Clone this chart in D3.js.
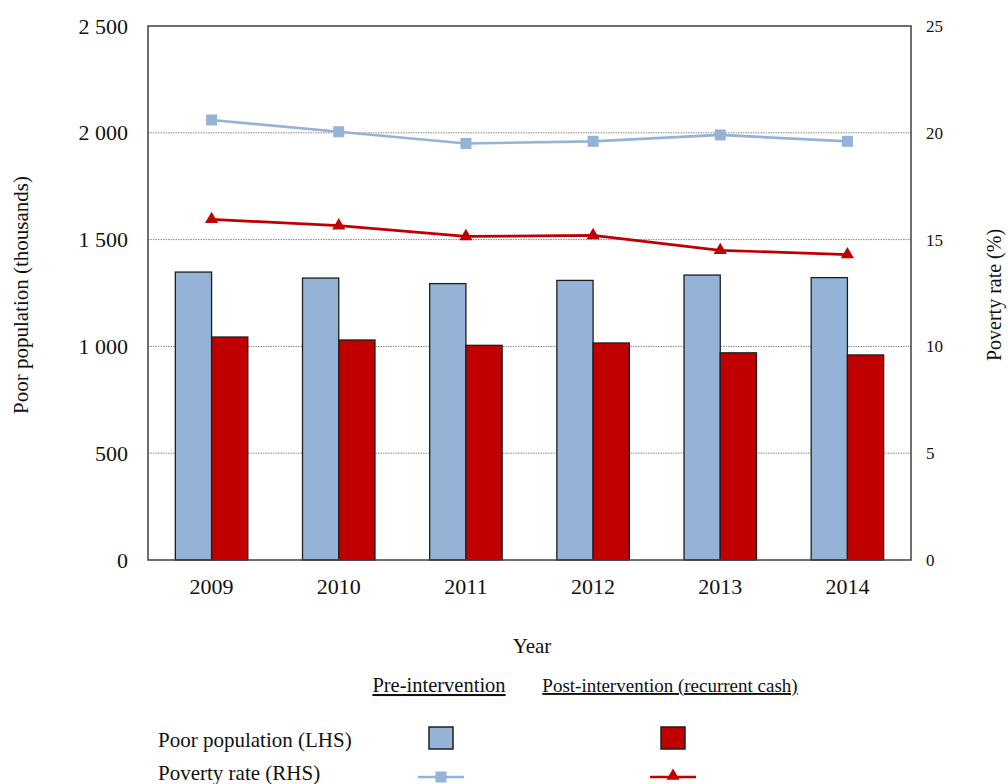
<!DOCTYPE html>
<html>
<head>
<meta charset="utf-8">
<script src="https://cdn.jsdelivr.net/npm/d3@7"></script>
<style>
  html, body { margin: 0; padding: 0; background: #fff; }
  svg { display: block; }
  svg text { font-family: "Liberation Serif", "Tinos", "DejaVu Serif", serif !important; }
</style>
</head>
<body>
<svg id="chart" width="1008" height="784"></svg>
<script>
const years = ["2009", "2010", "2011", "2012", "2013", "2014"];
const prePopulation = [1348, 1320, 1294, 1309, 1334, 1322];
const postPopulation = [1044, 1030, 1005, 1016, 970, 960];
const preRate = [20.6, 20.05, 19.5, 19.6, 19.9, 19.6];
const postRate = [15.95, 15.65, 15.15, 15.2, 14.5, 14.3];
const leftTicks = [0, 500, 1000, 1500, 2000, 2500];
const rightTicks = [0, 5, 10, 15, 20, 25];
const seriesNames = ["Pre-intervention", "Post-intervention (recurrent cash)"];
const rowNames = ["Poor population (LHS)", "Poverty rate (RHS)"];

const blue = "#95b3d7", red = "#c00000";
const svg = d3.select("#chart");
const L = 148, R = 911, T = 26, B = 560;

const x = d3.scaleBand().domain(years).range([L, R]).paddingInner(0.43).paddingOuter(0.215);
const xs = d3.scaleBand().domain([0, 1]).range([0, x.bandwidth()]);
const yL = d3.scaleLinear().domain([0, 2500]).range([B, T]);
const yR = d3.scaleLinear().domain([0, 25]).range([B, T]);

// gridlines
svg.append("g").selectAll("line").data(leftTicks.filter(d => d > 0 && d < 2500)).join("line")
  .attr("x1", L).attr("x2", R).attr("y1", d => yL(d)).attr("y2", d => yL(d))
  .attr("stroke", "#8a8a8a").attr("stroke-width", 1).attr("stroke-dasharray", "1.5,1");

// bars
const g = svg.append("g");
years.forEach((yr, i) => {
  [[prePopulation[i], blue], [postPopulation[i], red]].forEach(([v, c], k) => {
    g.append("rect")
      .attr("x", x(yr) + xs(k)).attr("width", xs.bandwidth())
      .attr("y", yL(v)).attr("height", yL(0) - yL(v))
      .attr("fill", c).attr("stroke", "#1e1e1e").attr("stroke-width", 1.3);
  });
});

// frame
svg.append("rect").attr("x", L).attr("y", T).attr("width", R - L).attr("height", B - T)
  .attr("fill", "none").attr("stroke", "#404040").attr("stroke-width", 1.5);

// axes
const axL = d3.axisLeft(yL).tickValues(leftTicks).tickSize(0).tickPadding(20)
  .tickFormat(d => d3.format(",")(d).replace(/,/g, " "));
const gL = svg.append("g").attr("transform", `translate(${L},0)`).call(axL);
gL.select(".domain").remove();
gL.selectAll("text").attr("font-size", 22).attr("fill", "#111");

const axR = d3.axisRight(yR).tickValues(rightTicks).tickSize(0).tickPadding(15);
const gR = svg.append("g").attr("transform", `translate(${R},0)`).call(axR);
gR.select(".domain").remove();
gR.selectAll("text").attr("font-size", 17).attr("fill", "#111");

const axB = d3.axisBottom(x).tickSize(0).tickPadding(18);
const gB = svg.append("g").attr("transform", `translate(0,${B})`).call(axB);
gB.select(".domain").remove();
gB.selectAll("text").attr("font-size", 22).attr("fill", "#111");

// lines
const cx = d => x(d) + x.bandwidth() / 2;
const line = d3.line();
function drawLine(vals, color, sym, size) {
  svg.append("path").attr("d", line(years.map((yr, i) => [cx(yr), yR(vals[i])])))
    .attr("fill", "none").attr("stroke", color).attr("stroke-width", 2.7);
  svg.append("g").selectAll("path").data(years).join("path")
    .attr("transform", (yr, i) => `translate(${cx(yr)},${yR(vals[i])})`)
    .attr("d", d3.symbol().type(sym).size(size)).attr("fill", color);
}
drawLine(preRate, blue, d3.symbolSquare, 121);
drawLine(postRate, red, d3.symbolTriangle, 75);

// axis titles
svg.append("text").attr("transform", "translate(28,295) rotate(-90)").attr("text-anchor", "middle")
  .attr("font-size", 21).attr("fill", "#111").text("Poor population (thousands)");
svg.append("text").attr("transform", "translate(1001,295) rotate(-90)").attr("text-anchor", "middle")
  .attr("font-size", 20).attr("fill", "#111").text("Poverty rate (%)");
svg.append("text").attr("x", 532).attr("y", 653).attr("text-anchor", "middle")
  .attr("font-size", 21).attr("fill", "#111").text("Year");

// legend
const colX = [439, 670];
const colSize = [20.5, 19];
seriesNames.forEach((n, k) => {
  svg.append("text").attr("x", colX[k]).attr("y", 692).attr("text-anchor", "middle")
    .attr("font-size", colSize[k]).attr("fill", "#111").attr("text-decoration", "underline").text(n);
});
rowNames.forEach((n, r) => {
  svg.append("text").attr("x", 158).attr("y", 747 + r * 33)
    .attr("font-size", 21).attr("fill", "#111").text(n);
});
[blue, red].forEach((c, k) => {
  const mx = [441, 673][k];
  svg.append("rect").attr("x", mx - 12).attr("y", 727).attr("width", 24).attr("height", 22)
    .attr("fill", c).attr("stroke", "#1e1e1e").attr("stroke-width", 1.5);
  svg.append("line").attr("x1", mx - 23).attr("x2", mx + 23).attr("y1", 777).attr("y2", 777)
    .attr("stroke", c).attr("stroke-width", 2.7);
  svg.append("path").attr("transform", `translate(${mx},${k ? 776 : 777})`)
    .attr("d", d3.symbol().type(k ? d3.symbolTriangle : d3.symbolSquare).size(k ? 75 : 121))
    .attr("fill", c);
});
</script>
</body>
</html>
